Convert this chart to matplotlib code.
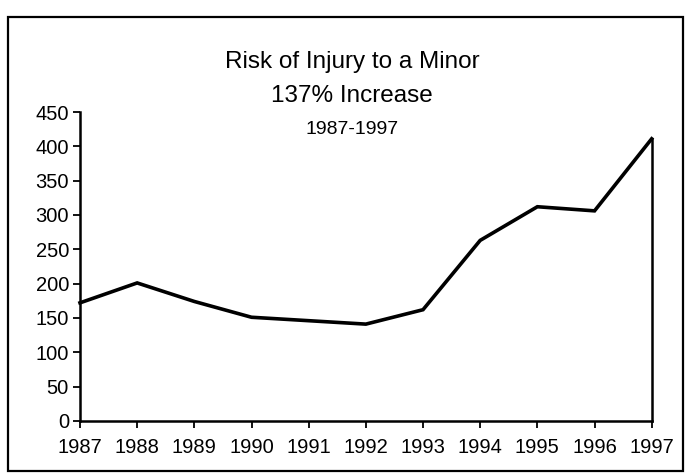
import numpy as np
import matplotlib.pyplot as plt
from matplotlib.patches import Rectangle

plt.rcParams['font.family'] = ['Liberation Sans', 'DejaVu Sans']

years = [1987, 1988, 1989, 1990, 1991, 1992, 1993, 1994, 1995, 1996, 1997]
cases = [172, 201, 174, 151, 146, 141, 162, 263, 312, 306, 411]
yticks = [0, 50, 100, 150, 200, 250, 300, 350, 400, 450]

fig = plt.figure(figsize=(6.86, 4.74), dpi=100)
fig.patch.set_facecolor('white')
# outer frame round the whole chart
fig.patches.append(Rectangle((0.011, 0.007), 0.984, 0.958, transform=fig.transFigure,
                             fill=False, edgecolor='black', linewidth=1.6))

ax = fig.add_axes([0.1166, 0.112, 0.8334, 0.6517])
ax.fill_between(years, cases, 0, facecolor='white', edgecolor='none')
ax.plot(years, cases, color='black', linewidth=2.6, solid_joinstyle='miter', clip_on=False)
# right edge of the area down to the axis
ax.plot([years[-1], years[-1]], [0, cases[-1]], color='black', linewidth=1.8, clip_on=False)

ax.set_xlim(years[0], years[-1])
ax.set_ylim(0, 450)
ax.set_xticks(years)
ax.set_yticks(yticks)
ax.tick_params(axis='both', direction='out', length=5, width=1.3, labelsize=14.5, colors='black')
ax.tick_params(axis='x', pad=7)
ax.tick_params(axis='y', pad=3)
for s in ['top', 'right']:
    ax.spines[s].set_visible(False)
for s in ['left', 'bottom']:
    ax.spines[s].set_linewidth(1.8)

cx = 0.513
fig.text(cx, 1 - 62 / 474, 'Risk of Injury to a Minor', ha='center', va='center', fontsize=17.5)
fig.text(cx, 1 - 96 / 474, '137% Increase', ha='center', va='center', fontsize=17.5)
fig.text(cx, 1 - 129 / 474, '1987-1997', ha='center', va='center', fontsize=14)

fig.savefig('out.png', dpi=100)
